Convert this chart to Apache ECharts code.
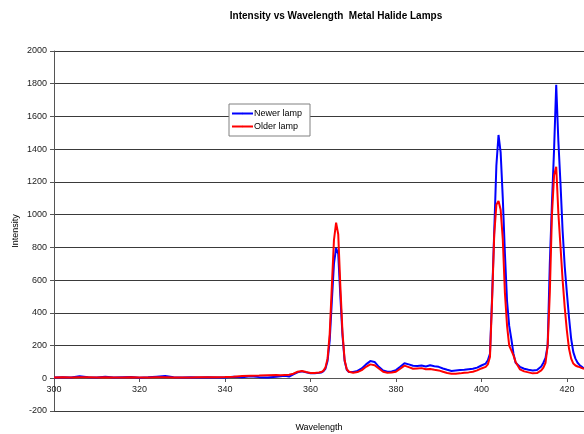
<!DOCTYPE html>
<html>
<head>
<meta charset="utf-8">
<script src="https://cdn.jsdelivr.net/npm/echarts@6/dist/echarts.min.js"></script>
<style>
html,body{margin:0;padding:0;background:#fff;}
#chart{width:584px;height:434px;}
</style>
</head>
<body>
<div id="chart"></div>
<script>
var title = 'Intensity vs Wavelength  Metal Halide Lamps';
var xName = 'Wavelength';
var yName = 'Intensity';
var seriesNames = ['Newer lamp', 'Older lamp'];

var wavelength = [
  300,302,304,306,308,310,312,314,316,318,320,322,324,326,328,330,332,334,336,338,340,342,344,346,348,350,352,
  353,354,355,356,357,358,359,360,361,362,
  362.5,363,363.5,364,364.5,365,365.5,366,366.5,367,367.5,368,368.5,369,
  370,371,372,373,374,375,376,377,378,379,380,381,382,383,384,385,386,387,388,389,390,391,392,393,394,395,396,397,398,399,400,401,
  401.5,402,402.5,403,403.5,404,404.5,405,405.5,406,406.5,407,407.5,408,
  409,410,411,412,413,414,
  414.5,415,415.5,416,416.5,417,417.5,418,418.5,419,419.5,420,420.5,421,421.5,422,422.5,423,423.5,424
];

var newerLamp = [
  4,6,5,12,6,5,9,4,6,8,3,6,10,14,7,5,6,4,7,5,4,9,6,12,7,5,10,
  12,15,10,24,36,42,36,30,30,33,
  35,42,58,105,230,470,700,795,760,500,260,105,52,38,
  38,45,60,85,105,100,70,48,40,42,50,70,92,85,77,75,78,72,80,74,70,60,52,45,48,50,52,55,58,65,78,90,
  110,150,500,900,1300,1487,1380,1100,760,470,320,240,150,95,
  70,58,52,48,50,72,
  95,125,200,700,1070,1400,1793,1450,1190,900,680,520,370,240,160,120,95,80,70,60
];

var olderLamp = [
  5,6,5,7,6,5,6,5,5,6,5,5,6,6,5,5,5,6,6,7,8,10,14,16,17,19,20,
  18,20,22,28,40,45,38,32,32,35,
  38,45,65,120,270,560,845,951,880,560,280,110,55,40,
  34,38,50,70,85,80,60,40,34,35,40,58,77,68,58,60,62,55,57,52,48,40,32,28,28,30,34,36,40,48,60,70,
  85,130,480,880,1060,1084,1030,850,520,320,200,170,140,100,
  55,42,36,30,32,48,
  65,95,200,520,1000,1240,1293,1010,805,600,430,290,180,120,90,78,72,68,62,58
];

function pairs(vals){ return wavelength.map(function(w,i){ return [w, vals[i]]; }); }

var font = 'Liberation Sans, Arial, sans-serif';
var chart = echarts.init(document.getElementById('chart'), null, {renderer:'canvas'});
chart.setOption({
  animation:false,
  backgroundColor:'#fff',
  title:{
    text:title, left:331, top:6, textAlign:'center',
    textStyle:{fontFamily:font, fontSize:10, fontWeight:'bold', color:'#000'}
  },
  legend:{
    orient:'vertical', left:229, top:104,
    data:seriesNames,
    backgroundColor:'#fff', borderColor:'#808080', borderWidth:1,
    padding:[4,8,4,2], itemGap:2, itemWidth:21, itemHeight:2,
    textStyle:{fontFamily:font, fontSize:9, color:'#000', lineHeight:11, padding:[0,0,0,-4]}
  },
  grid:{left:54, right:0, top:51, bottom:23, containLabel:false, outerBoundsMode:'none'},
  xAxis:{
    type:'value', min:300, max:424, interval:20, position:'bottom', offset:-33,
    name:xName, nameLocation:'middle', nameGap:45, nameMoveOverlap:false,
    nameTextStyle:{fontFamily:font, fontSize:9, color:'#000'},
    axisLine:{onZero:false, lineStyle:{color:'#555', width:1}},
    axisTick:{show:true, length:4, lineStyle:{color:'#555'}},
    axisLabel:{fontFamily:font, fontSize:9, color:'#222', margin:7, showMaxLabel:false},
    splitLine:{show:false}
  },
  yAxis:{
    type:'value', min:-200, max:2000, interval:200,
    name:yName, nameLocation:'middle', nameGap:34, nameMoveOverlap:false,
    nameTextStyle:{fontFamily:font, fontSize:9, color:'#000'},
    axisLine:{show:true, onZero:false, lineStyle:{color:'#555', width:1}},
    axisTick:{show:true, length:4, lineStyle:{color:'#555'}},
    axisLabel:{fontFamily:font, fontSize:9, color:'#222', margin:7, formatter:function(v){return String(v);}},
    splitLine:{show:true, lineStyle:{color:'#3a3a3a', width:1}}
  },
  series:[
    {name:seriesNames[0], type:'line', data:pairs(newerLamp), symbol:'none',
     lineStyle:{color:'#0000ff', width:2}, itemStyle:{color:'#0000ff'}},
    {name:seriesNames[1], type:'line', data:pairs(olderLamp), symbol:'none',
     lineStyle:{color:'#ff0000', width:2}, itemStyle:{color:'#ff0000'}}
  ]
});
</script>
</body>
</html>
